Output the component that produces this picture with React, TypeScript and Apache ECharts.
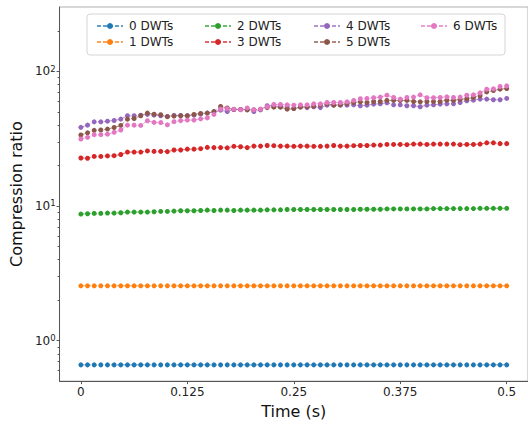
import React, { useEffect, useRef } from "react";
import * as echarts from "echarts";

const SERIES_NAMES = ["0 DWTs", "1 DWTs", "2 DWTs", "3 DWTs", "4 DWTs", "5 DWTs", "6 DWTs"];
const COLORS = ["#1f77b4", "#ff7f0e", "#2ca02c", "#d62728", "#9467bd", "#8c564b", "#e377c2"];

const X_TICKS = [0, 0.125, 0.25, 0.375, 0.5];
const Y_MINOR_TICKS = [0.6, 0.7, 0.8, 0.9, 2, 3, 4, 5, 6, 7, 8, 9, 20, 30, 40, 50, 60, 70, 80, 90, 200];

const DWT0 = [
  0.66, 0.66, 0.66, 0.66, 0.66, 0.66, 0.66, 0.66, 0.66, 0.66,
  0.66, 0.66, 0.66, 0.66, 0.66, 0.66, 0.66, 0.66, 0.66, 0.66,
  0.66, 0.66, 0.66, 0.66, 0.66, 0.66, 0.66, 0.66, 0.66, 0.66,
  0.66, 0.66, 0.66, 0.66, 0.66, 0.66, 0.66, 0.66, 0.66, 0.66,
  0.66, 0.66, 0.66, 0.66, 0.66, 0.66, 0.66, 0.66, 0.66, 0.66,
  0.66, 0.66, 0.66, 0.66, 0.66, 0.66, 0.66, 0.66, 0.66, 0.66,
  0.66, 0.66, 0.66, 0.66, 0.66,
];
const DWT1 = [
  2.55, 2.55, 2.55, 2.55, 2.55, 2.55, 2.55, 2.55, 2.55, 2.55,
  2.55, 2.55, 2.55, 2.55, 2.55, 2.55, 2.55, 2.55, 2.55, 2.55,
  2.55, 2.55, 2.55, 2.55, 2.55, 2.55, 2.55, 2.55, 2.55, 2.55,
  2.55, 2.55, 2.55, 2.55, 2.55, 2.55, 2.55, 2.55, 2.55, 2.55,
  2.55, 2.55, 2.55, 2.55, 2.55, 2.55, 2.55, 2.55, 2.55, 2.55,
  2.55, 2.55, 2.55, 2.55, 2.55, 2.55, 2.55, 2.55, 2.55, 2.55,
  2.55, 2.55, 2.55, 2.55, 2.55,
];
const DWT2 = [
  8.7, 8.75, 8.8, 8.8, 8.85, 8.85, 8.9, 9.0, 9.0, 9.0,
  9.0, 9.05, 9.1, 9.1, 9.15, 9.2, 9.2, 9.2, 9.25, 9.3,
  9.25, 9.3, 9.3, 9.25, 9.3, 9.3, 9.3, 9.3, 9.35, 9.35,
  9.35, 9.4, 9.4, 9.4, 9.4, 9.4, 9.4, 9.4, 9.4, 9.4,
  9.4, 9.4, 9.45, 9.45, 9.45, 9.45, 9.5, 9.5, 9.5, 9.5,
  9.5, 9.5, 9.5, 9.55, 9.55, 9.55, 9.55, 9.55, 9.55, 9.55,
  9.6, 9.6, 9.6, 9.6, 9.6,
];
const DWT3 = [
  22.7, 22.6, 23.3, 23.3, 23.5, 23.6, 24.1, 25.1, 25.1, 25.1,
  25.6, 25.4, 25.4, 25.3, 26.0, 26.0, 26.4, 26.4, 26.6, 27.2,
  27.1, 27.1, 27.0, 27.7, 27.5, 27.1, 27.8, 27.8, 28.1, 28.0,
  27.8, 27.8, 27.7, 27.8, 27.8, 27.7, 27.7, 27.8, 28.1, 27.8,
  27.8, 28.0, 28.1, 28.1, 28.3, 28.3, 28.6, 28.6, 28.6, 28.5,
  28.8, 28.8, 28.6, 28.8, 28.8, 28.8, 28.8, 28.5, 28.6, 28.6,
  28.8, 29.4, 29.4, 29.0, 29.0,
];
const DWT4 = [
  38.3, 39.8, 42.1, 42.1, 42.6, 43.1, 44.1, 46.7, 46.7, 47.2,
  47.8, 47.2, 46.7, 46.2, 46.9, 46.9, 46.7, 47.2, 48.0, 48.9,
  50.0, 51.4, 50.2, 52.0, 52.0, 51.7, 50.2, 51.6, 55.4, 55.4,
  54.5, 54.5, 52.8, 54.5, 53.7, 54.5, 53.7, 56.0, 56.0, 56.0,
  56.0, 56.3, 55.4, 56.0, 57.0, 57.3, 58.3, 56.3, 56.3, 55.4,
  55.4, 54.5, 56.0, 56.3, 57.0, 57.3, 57.3, 58.6, 60.4, 61.0,
  62.1, 62.1, 61.4, 61.4, 62.8,
];
const DWT5 = [
  33.6, 34.9, 36.4, 36.6, 37.2, 38.2, 39.6, 44.1, 44.6, 46.7,
  48.9, 48.0, 47.5, 46.0, 46.5, 46.7, 46.7, 47.8, 48.6, 48.9,
  50.2, 54.8, 53.4, 52.0, 52.0, 51.7, 51.7, 52.3, 53.7, 54.1,
  54.1, 52.3, 52.8, 54.1, 54.5, 55.1, 56.0, 57.3, 56.0, 56.3,
  57.6, 58.6, 59.3, 58.6, 59.6, 59.6, 60.7, 60.7, 60.7, 60.7,
  59.6, 59.3, 59.6, 59.6, 59.6, 61.0, 60.7, 61.8, 62.5, 63.9,
  65.7, 70.3, 71.9, 73.6, 74.4,
];
const DWT6 = [
  31.4, 32.3, 33.8, 33.8, 34.1, 35.2, 36.6, 39.8, 39.8, 39.6,
  42.9, 41.7, 41.6, 40.0, 42.2, 43.0, 43.4, 43.4, 44.3, 45.0,
  47.8, 52.3, 52.8, 52.3, 51.8, 53.4, 51.8, 52.3, 54.5, 56.6,
  56.6, 56.3, 56.0, 56.3, 56.3, 57.3, 57.3, 58.6, 58.6, 58.6,
  59.3, 60.7, 62.5, 62.8, 63.6, 64.3, 66.4, 63.9, 62.1, 63.9,
  64.3, 66.8, 63.6, 63.6, 63.9, 64.6, 63.9, 64.3, 66.4, 66.8,
  69.1, 73.6, 74.0, 77.0, 77.9,
];

const SERIES_VALUES = [DWT0, DWT1, DWT2, DWT3, DWT4, DWT5, DWT6];
// sampling times: 65 samples spanning 0 .. 0.5 s
const TIMES = DWT0.map((_, i) => i / 128);

const FONT = "DejaVu Sans";

export default function App() {
  const ref = useRef<HTMLDivElement>(null);

  useEffect(() => {
    const chart = echarts.init(ref.current as HTMLDivElement, null, { renderer: "svg" });

    const lineSeries = SERIES_VALUES.map((vals, k) => ({
      type: "line",
      name: SERIES_NAMES[k],
      data: TIMES.map((t, i) => [t, vals[i]]),
      symbol: "circle",
      symbolSize: 5,
      showSymbol: true,
      itemStyle: { color: COLORS[k] },
      lineStyle: { color: COLORS[k], width: 1, type: [4, 2], opacity: 0.7 },
      emphasis: { disabled: true },
      z: 2,
    }));

    const minorTickSeries = {
      type: "custom",
      name: "minorTicks",
      silent: true,
      data: Y_MINOR_TICKS.map((v) => [0, v]),
      renderItem: (params: any, api: any) => {
        const y = Math.round(api.coord([0, api.value(1)])[1]) + 0.5;
        const x = params.coordSys.x;
        return {
          type: "line",
          shape: { x1: x - 2, y1: y, x2: x, y2: y },
          style: { stroke: "#555", lineWidth: 1 },
        };
      },
      z: 5,
    };

    const legendLefts = [91, 199, 308, 415];
    const legendGroups = [
      [SERIES_NAMES[0], SERIES_NAMES[1]],
      [SERIES_NAMES[2], SERIES_NAMES[3]],
      [SERIES_NAMES[4], SERIES_NAMES[5]],
      [SERIES_NAMES[6]],
    ];

    const option: any = {
      animation: false,
      backgroundColor: "#ffffff",
      textStyle: { fontFamily: FONT },
      grid: {
        left: 58,
        right: -6,
        top: 7,
        bottom: 41,
        show: true,
        borderColor: "#b0b0b0",
        borderWidth: 1,
        backgroundColor: "transparent",
      },
      graphic: [
        {
          type: "rect",
          shape: { x: 87, y: 14, width: 418, height: 41, r: 3 },
          style: { fill: "rgba(255,255,255,0.8)", stroke: "#d5d5d5", lineWidth: 1 },
          z: 3,
          silent: true,
        },
      ],
      legend: legendGroups.map((names, c) => ({
        orient: "vertical",
        left: legendLefts[c],
        top: 15,
        itemWidth: 26,
        itemHeight: 7.5,
        itemGap: 4,
        selectedMode: false,
        data: names,
        textStyle: { fontFamily: FONT, fontSize: 12, color: "#222", padding: [0, 0, 0, 1] },
        z: 4,
      })),
      xAxis: {
        type: "value",
        min: -0.025,
        max: 0.525,
        name: "Time (s)",
        nameLocation: "middle",
        nameGap: 19,
        nameTextStyle: { fontFamily: FONT, fontSize: 16, color: "#111" },
        splitLine: { show: false },
        axisLine: { onZero: false, lineStyle: { color: "#555", width: 1 } },
        axisTick: { length: 3, lineStyle: { color: "#555" }, customValues: X_TICKS },
        axisLabel: {
          customValues: X_TICKS,
          fontFamily: FONT,
          fontSize: 12,
          color: "#222",
          margin: 5,
          formatter: (v: number) => String(v),
        },
      },
      yAxis: {
        type: "log",
        logBase: 10,
        min: 0.5,
        max: 300,
        name: "Compression ratio",
        nameLocation: "middle",
        nameGap: 31,
        nameTextStyle: { fontFamily: FONT, fontSize: 16, color: "#111" },
        splitLine: { show: false },
        axisLine: { show: true, onZero: false, lineStyle: { color: "#555", width: 1 } },
        axisTick: { show: true, length: 3, lineStyle: { color: "#555" } },
        axisLabel: {
          showMinLabel: false,
          showMaxLabel: false,
          margin: 4,
          color: "#222",
          fontFamily: FONT,
          formatter: (v: number) => {
            const e = Math.round(Math.log10(v));
            if (Math.abs(Math.pow(10, e) - v) > 1e-9 * v) return "";
            return `{b|10}{s|${e}}`;
          },
          rich: {
            b: { fontFamily: FONT, fontSize: 12, color: "#222" },
            s: { fontFamily: FONT, fontSize: 8.5, color: "#222", verticalAlign: "top", padding: [0, 0, 5, 0] },
          },
        },
      },
      series: [...lineSeries, minorTickSeries],
    };

    chart.setOption(option);
    return () => chart.dispose();
  }, []);

  return (
    <div
      ref={ref}
      style={{ position: "fixed", left: 0, top: 0, width: 528, height: 424 }}
    />
  );
}
